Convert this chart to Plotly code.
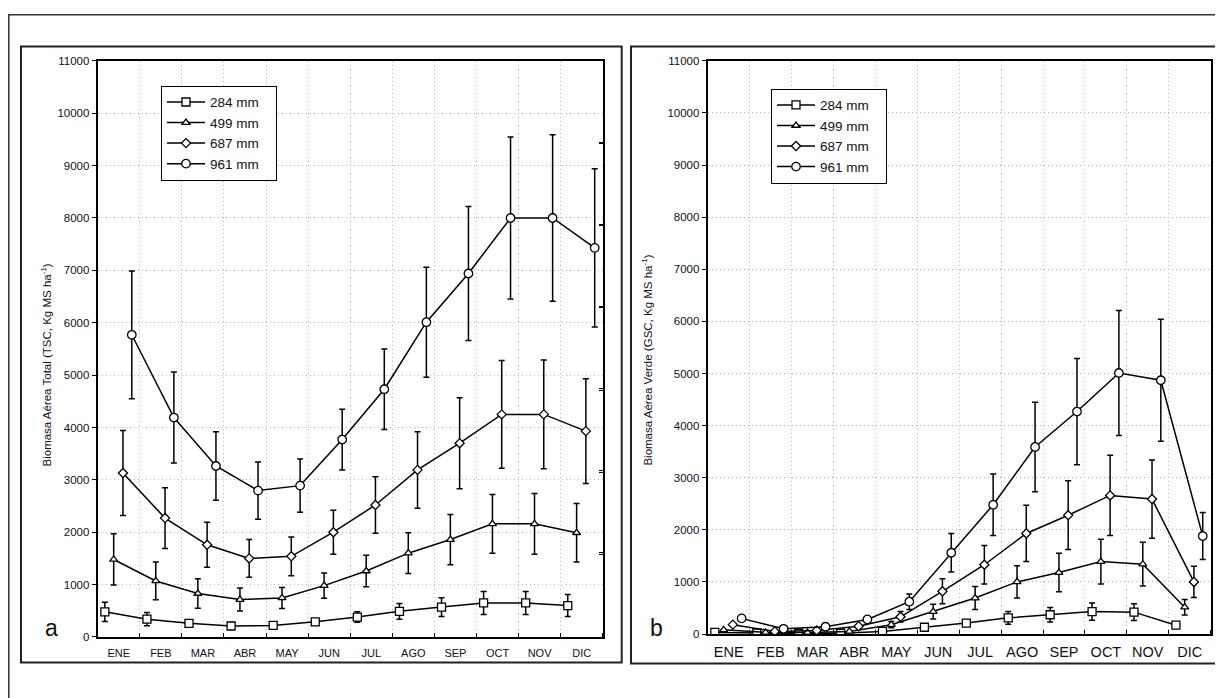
import plotly.graph_objects as go

# ---------------- data ----------------
months = ["ENE", "FEB", "MAR", "ABR", "MAY", "JUN", "JUL", "AGO", "SEP", "OCT", "NOV", "DIC"]
series_names = ["284 mm", "499 mm", "687 mm", "961 mm"]

# Panel a: Biomasa Aérea Total (TSC)
tsc_284 = [480, 340, 260, 210, 220, 290, 380, 490, 570, 650, 650, 600]
tsc_284_err = [185, 125, 70, 40, 40, 60, 100, 150, 180, 220, 220, 210]
tsc_499 = [1480, 1070, 830, 715, 745, 980, 1260, 1600, 1860, 2160, 2160, 1990]
tsc_499_err = [490, 360, 280, 220, 200, 240, 300, 390, 480, 560, 580, 560]
tsc_687 = [3130, 2270, 1760, 1500, 1540, 2000, 2520, 3190, 3700, 4250, 4250, 3930]
tsc_687_err = [810, 580, 430, 360, 370, 420, 540, 730, 870, 1030, 1040, 1000]
tsc_961 = [5770, 4190, 3265, 2795, 2890, 3770, 4730, 6010, 6940, 8000, 8000, 7430]
tsc_961_err = [1220, 870, 655, 545, 510, 580, 770, 1050, 1280, 1545, 1590, 1510]

# Panel b: Biomasa Aérea Verde (GSC)
gsc_284 = [30, 20, 15, 15, 50, 130, 210, 310, 370, 430, 420, 170]
gsc_284_err = [0, 0, 0, 0, 0, 0, 60, 120, 140, 165, 160, 0]
gsc_499 = [80, 30, 30, 50, 180, 430, 690, 1000, 1180, 1390, 1340, 515]
gsc_499_err = [0, 0, 0, 0, 60, 140, 220, 310, 370, 430, 420, 150]
gsc_687 = [180, 50, 70, 150, 330, 820, 1330, 1930, 2280, 2660, 2590, 1000]
gsc_687_err = [0, 0, 0, 30, 100, 240, 370, 540, 660, 770, 750, 300]
gsc_961 = [300, 100, 140, 280, 620, 1560, 2480, 3590, 4270, 5010, 4870, 1880]
gsc_961_err = [40, 0, 0, 40, 150, 370, 590, 860, 1020, 1200, 1170, 450]

y_ticks = list(range(0, 11001, 1000))
y_ticklabels = [str(v) for v in y_ticks]

# ---------------- style ----------------
# The page body has an 8px margin, so the figure is placed at (8, 8) of the window.
OFF = 8
FW, FH = 1223 - OFF, 698 - OFF
FONT = "Arial, Liberation Sans, Helvetica, sans-serif"
INK = "#111111"
GRID = "#b4b4b4"
symbols = ["square", "triangle-up", "diamond", "circle"]
msizes = [8, 7, 7, 8.5]
offsets = [-0.33, -0.12, 0.10, 0.31]
PAD = "\u00a0\u00a0\u00a0"   # widens the legend box a little


def px(x):
    return (x - OFF) / FW


def py(y):
    return 1 - (y - OFF) / FH


fig = go.Figure()

panels = [
    dict(vals=[tsc_284, tsc_499, tsc_687, tsc_961],
         errs=[tsc_284_err, tsc_499_err, tsc_687_err, tsc_961_err],
         xa="x", ya="y", legend="legend"),
    dict(vals=[gsc_284, gsc_499, gsc_687, gsc_961],
         errs=[gsc_284_err, gsc_499_err, gsc_687_err, gsc_961_err],
         xa="x2", ya="y2", legend="legend2"),
]

for p in panels:
    for k in range(4):
        xs = [i + offsets[k] for i in range(len(months))]
        fig.add_trace(go.Scatter(
            x=xs, y=p["vals"][k], name=series_names[k] + PAD,
            mode="lines+markers",
            line=dict(color="black", width=1.5),
            marker=dict(symbol=symbols[k], size=msizes[k], color="white",
                        line=dict(color="black", width=1.3)),
            error_y=dict(type="data", array=p["errs"][k], symmetric=True,
                         color="black", thickness=1.5, width=3),
            xaxis=p["xa"], yaxis=p["ya"], legend=p["legend"],
            hoverinfo="skip",
        ))

# empty carriers for the secondary right-side tick axes
fig.add_trace(go.Scatter(x=[None], y=[None], xaxis="x", yaxis="y3",
                         showlegend=False, hoverinfo="skip"))
fig.add_trace(go.Scatter(x=[None], y=[None], xaxis="x2", yaxis="y4",
                         showlegend=False, hoverinfo="skip"))


def xaxis(domain, fsize, anchor, standoff):
    return dict(
        domain=domain, anchor=anchor, range=[-0.5, 11.5],
        tickmode="array", tickvals=list(range(len(months))), ticktext=months,
        ticks="", showgrid=False, zeroline=False, ticklabelstandoff=standoff,
        showline=True, linecolor="black", linewidth=2, mirror=True,
        tickfont=dict(family=FONT, size=fsize, color=INK),
        minor=dict(tickmode="linear", tick0=0.5, dtick=1, ticks="inside",
                   ticklen=4, tickwidth=1.2, tickcolor="black",
                   showgrid=True, gridcolor=GRID, griddash="1px,3px", gridwidth=1),
    )


def yaxis(domain, anchor):
    return dict(
        domain=domain, anchor=anchor, range=[0, 11000],
        tickmode="array", tickvals=y_ticks, ticktext=y_ticklabels,
        ticks="outside", ticklen=4, tickwidth=1.2, tickcolor="black",
        showgrid=True, gridcolor=GRID, griddash="1px,3px", gridwidth=1,
        zeroline=False, showline=True, linecolor="black", linewidth=2, mirror=True,
        tickfont=dict(family=FONT, size=11.5, color=INK),
    )


def side_axis(over):
    return dict(overlaying=over, side="right", range=[0, 7],
                tickmode="array", tickvals=[1, 2, 3, 4, 5, 6],
                ticks="inside", ticklen=4, tickwidth=1.2, tickcolor="black",
                showticklabels=False, showgrid=False, zeroline=False, showline=False)


dl = [px(97.7), px(602.7)]
dr = [px(707.7), px(1210.7)]
yl = [py(642), py(55.7)]
yr = [py(639), py(55.7)]

legend_common = dict(bgcolor="white", bordercolor="black", borderwidth=1,
                     font=dict(family=FONT, size=13.5, color=INK),
                     xanchor="left", yanchor="top", tracegroupgap=0,
                     itemwidth=38)

fig.update_layout(
    width=FW, height=FH, autosize=False,
    margin=dict(l=0, r=0, t=0, b=0),
    paper_bgcolor="white", plot_bgcolor="white",
    font=dict(family=FONT, color=INK),
    xaxis=xaxis(dl, 11, "y", 5),
    yaxis=yaxis(yl, "x"),
    xaxis2=xaxis(dr, 14.5, "y2", 4),
    yaxis2=yaxis(yr, "x2"),
    yaxis3=side_axis("y"),
    yaxis4=side_axis("y2"),
    legend=dict(x=px(161), y=py(81), **legend_common),
    legend2=dict(x=px(771), y=py(84), **legend_common),
    showlegend=True,
)

# frames
fig.add_shape(type="rect", xref="paper", yref="paper",
              x0=px(8.8), x1=1.05, y0=-0.05, y1=py(8.8),
              line=dict(color="#333333", width=1.5), layer="below")
fig.add_shape(type="rect", xref="paper", yref="paper",
              x0=px(21), x1=px(621.7), y0=py(668), y1=py(41),
              line=dict(color="#222222", width=2), layer="below")
fig.add_shape(type="rect", xref="paper", yref="paper",
              x0=px(631), x1=1.05, y0=py(669), y1=py(41),
              line=dict(color="#222222", width=2), layer="below")

# panel letters and axis titles
fig.add_annotation(x=px(43), y=py(648), xref="paper", yref="paper", text="a",
                   showarrow=False, font=dict(family=FONT, size=23, color=INK))
fig.add_annotation(x=px(656), y=py(648), xref="paper", yref="paper", text="b",
                   showarrow=False, font=dict(family=FONT, size=23, color=INK))
fig.add_annotation(x=px(36.7), y=py(365), xref="paper", yref="paper",
                   text="Biomasa Aérea Total (TSC, Kg MS ha<sup>-1</sup>)",
                   textangle=-90, showarrow=False,
                   font=dict(family=FONT, size=11.5, color=INK))
fig.add_annotation(x=px(646.7), y=py(360), xref="paper", yref="paper",
                   text="Biomasa Aérea Verde (GSC, Kg MS ha<sup>-1</sup>)",
                   textangle=-90, showarrow=False,
                   font=dict(family=FONT, size=11.5, color=INK))

fig.write_html("out.html")
